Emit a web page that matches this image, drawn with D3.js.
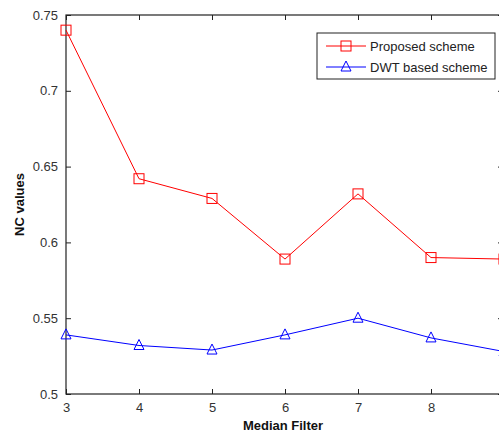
<!DOCTYPE html>
<html>
<head>
<meta charset="utf-8">
<script src="https://cdn.jsdelivr.net/npm/d3@7"></script>
<style>
  body { margin: 0; background: #fff; overflow: hidden; }
  svg { display: block; font-family: "Liberation Sans", Arial, sans-serif; }
</style>
</head>
<body>
<svg id="chart" width="499" height="434"></svg>
<script>
const filterSizes = [3, 4, 5, 6, 7, 8, 9];
const proposedValues = [0.740, 0.642, 0.629, 0.589, 0.632, 0.590, 0.589];
const dwtValues = [0.539, 0.532, 0.529, 0.539, 0.550, 0.537, 0.528];
const xTicks = [3, 4, 5, 6, 7, 8];
const yTicks = [0.5, 0.55, 0.6, 0.65, 0.7, 0.75];
const seriesNames = ["Proposed scheme", "DWT based scheme"];

const svg = d3.select("#chart");
const plotLeft = 66, plotTop = 15, plotRight = 504, plotBottom = 394;

const x = d3.scaleLinear().domain([3, 9]).range([plotLeft, plotRight]);
const y = d3.scaleLinear().domain([0.5, 0.75]).range([plotBottom, plotTop]);

const axisColor = "#222";
const tickLen = 5;

// frame
svg.append("rect")
    .attr("x", plotLeft).attr("y", plotTop)
    .attr("width", plotRight - plotLeft).attr("height", plotBottom - plotTop)
    .attr("fill", "none").attr("stroke", axisColor).attr("stroke-width", 1.2);

// inward ticks on all four sides
const xAxisB = d3.axisBottom(x).tickValues(xTicks).tickSize(-tickLen).tickPadding(9).tickFormat(d3.format("d"));
const xAxisT = d3.axisTop(x).tickValues(xTicks).tickSize(-tickLen).tickFormat("");
const yAxisL = d3.axisLeft(y).tickValues(yTicks).tickSize(-tickLen).tickPadding(8).tickFormat(d => String(+d.toFixed(2)));
const yAxisR = d3.axisRight(y).tickValues(yTicks).tickSize(-tickLen - 1).tickFormat("");

function styleAxis(g) {
    g.select(".domain").remove();
    g.selectAll(".tick line").attr("stroke", axisColor);
    g.selectAll(".tick text")
        .attr("fill", "#333")
        .style("font-size", "13px")
        .style("font-family", "\"Liberation Sans\", Arial, sans-serif");
}

svg.append("g").attr("transform", `translate(0,${plotBottom})`).call(xAxisB).call(styleAxis);
svg.append("g").attr("transform", `translate(0,${plotTop})`).call(xAxisT).call(styleAxis);
svg.append("g").attr("transform", `translate(${plotLeft},0)`).call(yAxisL).call(styleAxis);
svg.append("g").attr("transform", `translate(${plotRight},0)`).call(yAxisR).call(styleAxis);

// axis labels
svg.append("text")
    .attr("x", 283).attr("y", 430)
    .attr("text-anchor", "middle")
    .style("font-size", "13px").style("font-weight", "bold")
    .attr("fill", "#111")
    .text("Median Filter");

svg.append("text")
    .attr("transform", `translate(24,${(plotTop + plotBottom) / 2}) rotate(-90)`)
    .attr("text-anchor", "middle")
    .style("font-size", "13px").style("font-weight", "bold")
    .attr("fill", "#111")
    .text("NC values");

const series = [
    { name: seriesNames[0], values: proposedValues, color: "#ff0000", marker: "square" },
    { name: seriesNames[1], values: dwtValues, color: "#0000ff", marker: "triangle" }
];

const line = d3.line()
    .x(d => x(d.size))
    .y(d => y(d.value));

const plot = svg.append("g");

function drawMarker(g, type, color) {
    if (type === "square") {
        g.append("rect")
            .attr("x", -5).attr("y", -5).attr("width", 10).attr("height", 10)
            .attr("fill", "none").attr("stroke", color).attr("stroke-width", 1);
    } else {
        g.append("path")
            .attr("d", "M0,-6 L5,4 L-5,4 Z")
            .attr("fill", "none").attr("stroke", color).attr("stroke-width", 1);
    }
}

series.forEach(s => {
    const points = filterSizes.map((size, i) => ({ size: size, value: s.values[i] }));
    plot.append("path")
        .datum(points)
        .attr("d", line)
        .attr("fill", "none")
        .attr("stroke", s.color)
        .attr("stroke-width", 1);
    points.forEach(p => {
        const g = plot.append("g").attr("transform", `translate(${x(p.size)},${y(p.value)})`);
        drawMarker(g, s.marker, s.color);
    });
});

// legend
const legend = svg.append("g").attr("transform", "translate(317,33)");
legend.append("rect")
    .attr("x", 0).attr("y", 0).attr("width", 178).attr("height", 46)
    .attr("fill", "#fff").attr("stroke", "#222").attr("stroke-width", 1);

series.forEach((s, i) => {
    const ly = 13 + i * 21;
    legend.append("line")
        .attr("x1", 9).attr("x2", 49).attr("y1", ly).attr("y2", ly)
        .attr("stroke", s.color).attr("stroke-width", 1);
    const m = legend.append("g").attr("transform", `translate(29,${ly})`);
    drawMarker(m, s.marker, s.color);
    legend.append("text")
        .attr("x", 53).attr("y", ly + 4.5)
        .style("font-size", "13px")
        .attr("fill", "#222")
        .text(s.name);
});
</script>
</body>
</html>
